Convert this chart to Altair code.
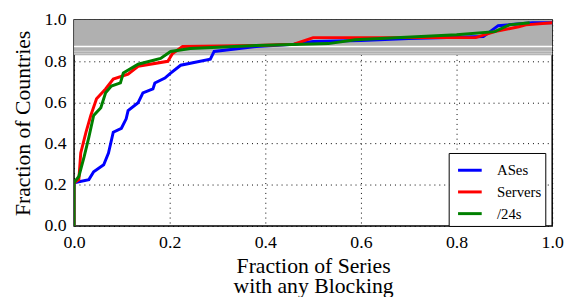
import altair as alt
import pandas as pd

# ---- data ----
ases_x = [0.0, 0.0, 0.031, 0.041, 0.062, 0.072, 0.082, 0.099, 0.109, 0.113, 0.134, 0.144, 0.165, 0.169,
          0.19, 0.202, 0.223, 0.285, 0.293, 0.381, 0.46, 0.5, 0.6, 0.7, 0.8, 0.856, 0.887, 0.959, 1.0]
ases_y = [0.0, 0.21, 0.225, 0.263, 0.297, 0.354, 0.455, 0.474, 0.52, 0.56, 0.598, 0.646, 0.665, 0.694,
          0.718, 0.742, 0.78, 0.809, 0.847, 0.871, 0.882, 0.895, 0.9, 0.91, 0.916, 0.919, 0.972, 0.986, 0.986]

servers_x = [0.0, 0.0, 0.01, 0.014, 0.025, 0.035, 0.047, 0.066, 0.082, 0.113, 0.134, 0.196, 0.206, 0.227,
             0.381, 0.46, 0.5, 0.7, 0.84, 0.88, 0.93, 0.945, 1.0]
servers_y = [0.0, 0.21, 0.225, 0.354, 0.455, 0.536, 0.617, 0.665, 0.713, 0.737, 0.775, 0.799, 0.837, 0.871,
             0.876, 0.882, 0.914, 0.914, 0.914, 0.943, 0.967, 0.976, 0.986]

s24_x = [0.0, 0.0, 0.01, 0.021, 0.031, 0.041, 0.056, 0.066, 0.078, 0.097, 0.103, 0.134, 0.181, 0.202,
         0.243, 0.381, 0.532, 0.588, 0.8, 0.88, 0.91, 0.953]
s24_y = [0.0, 0.21, 0.24, 0.335, 0.431, 0.536, 0.574, 0.646, 0.679, 0.694, 0.742, 0.785, 0.813, 0.847,
         0.861, 0.876, 0.885, 0.904, 0.928, 0.943, 0.976, 0.986]

series_names = ["ASes", "Servers", "/24s"]
series_colors = ["#0000ff", "#ff0000", "#008000"]

band_low = [0.828]
band_high = [1.0]
white_lines = [0.871]
light_lines = [0.847, 0.836]

x_ticks = [0.0, 0.2, 0.4, 0.6, 0.8, 1.0]
y_ticks = [0.0, 0.2, 0.4, 0.6, 0.8, 1.0]

# ---- build tables ----
rows = []
for name, xs, ys in zip(series_names, [ases_x, servers_x, s24_x], [ases_y, servers_y, s24_y]):
    for i, (x, y) in enumerate(zip(xs, ys)):
        rows.append({"series": name, "x": x, "y": y, "order": i})
df = pd.DataFrame(rows)

band_df = pd.DataFrame({"y": band_low, "y2": band_high})
white_df = pd.DataFrame({"y": white_lines})
light_df = pd.DataFrame({"y": light_lines})

FONT = "Liberation Serif"

xscale = alt.Scale(domain=[0, 1], nice=False, zero=False)
yscale = alt.Scale(domain=[0, 1], nice=False, zero=False)

y_axis = alt.Axis(values=y_ticks, format=".1f", title="Fraction of Countries",
                  labelPadding=8, titlePadding=10, labelFont=FONT, titleFont=FONT)

band = alt.Chart(band_df).mark_rect(color="#b0b0b0").encode(
    y=alt.Y("y:Q", scale=yscale, axis=y_axis),
    y2="y2:Q",
    x=alt.value(0),
    x2=alt.value(485),
)
white = alt.Chart(white_df).mark_rule(color="white", strokeWidth=1.5).encode(
    y=alt.Y("y:Q", scale=yscale, axis=y_axis), x=alt.value(0), x2=alt.value(485)
)
light = alt.Chart(light_df).mark_rule(color="#c8c8c8", strokeWidth=1.2).encode(
    y=alt.Y("y:Q", scale=yscale, axis=y_axis), x=alt.value(0), x2=alt.value(485)
)

lines = alt.Chart(df).mark_line(strokeWidth=3, clip=True).encode(
    x=alt.X("x:Q", scale=xscale,
            axis=alt.Axis(values=x_ticks, format=".1f", title=["Fraction of Series", "with any Blocking"],
                          labelPadding=8, titlePadding=4, titleLineHeight=21,
                          labelFont=FONT, titleFont=FONT)),
    y=alt.Y("y:Q", scale=yscale, axis=y_axis),
    color=alt.Color("series:N", scale=alt.Scale(domain=series_names, range=series_colors),
                    sort=series_names,
                    legend=alt.Legend(title=None, orient="none", legendX=380, legendY=135,
                                      strokeColor="black", fillColor="white", padding=4,
                                      symbolType="stroke", symbolStrokeWidth=3, symbolSize=576,
                                      symbolOffset=4, labelFont=FONT, labelFontSize=15,
                                      labelColor="black", rowPadding=-5, labelOffset=14,
                                      cornerRadius=0)),
    order="order:Q",
)

chart = alt.layer(band, white, light, lines).properties(
    width=485, height=209,
    autosize=alt.AutoSizeParams(type="none"),
    padding={"left": 67, "top": 10, "right": 14, "bottom": 70},
).configure(font=FONT).configure_view(stroke="black", strokeWidth=1.5).configure_axis(
    grid=True, gridColor="black", gridDash=[1, 4], gridWidth=1, gridOpacity=1,
    ticks=False, domain=False, labelFont=FONT, labelFontSize=18, labelColor="black",
    titleFont=FONT, titleFontSize=22, titleFontWeight="normal", titleColor="black",
    zindex=1, labelFlush=False,
)

chart.save("out.html", embed_options={"renderer": "svg", "actions": False})
